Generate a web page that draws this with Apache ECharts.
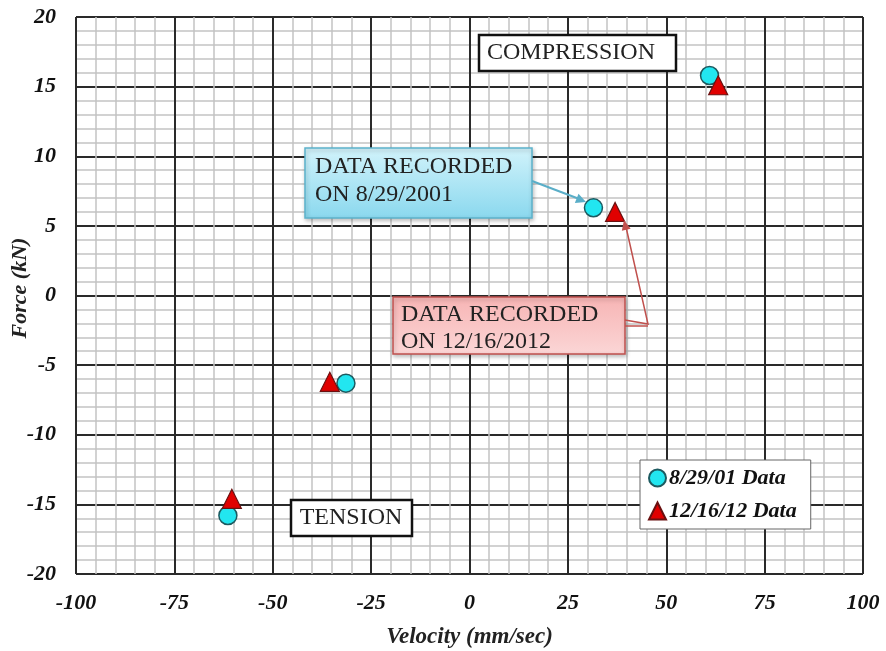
<!DOCTYPE html>
<html>
<head>
<meta charset="utf-8">
<script src="https://cdn.jsdelivr.net/npm/echarts@6/dist/echarts.min.js"></script>
<style>
  html, body { margin: 0; padding: 0; background: #fff; }
  #chart { width: 886px; height: 651px; }
</style>
</head>
<body>
<div id="chart"></div>
<script>
// values
const data2001 = [[61, 15.8], [31.5, 6.3], [-31.4, -6.3], [-61.4, -15.8]];
const data2012 = [[63.2, 15.1], [37, 6.0], [-35.5, -6.2], [-60.4, -14.6]];
const xTicks = [-100, 100, 25];
const yTicks = [-20, 20, 5];

const serif = 'Liberation Serif';
const chart = echarts.init(document.getElementById('chart'));

// arrow head helper (pixel polygon pointing from a to b)
function arrowHead (a, b, len, wid, color) {
  let dx = b[0] - a[0], dy = b[1] - a[1];
  let d = Math.sqrt(dx * dx + dy * dy);
  let ux = dx / d, uy = dy / d;
  let bx = b[0] - ux * len, by = b[1] - uy * len;
  return {
    type: 'polygon',
    shape: { points: [b, [bx - uy * wid, by + ux * wid], [bx + uy * wid, by - ux * wid]] },
    style: { fill: color },
    z: 20
  };
}

const blueBox = [305, 148, 227, 70];
const redBox = [393, 297, 232, 57];

const tickFont = { fontFamily: serif, fontSize: 22, fontWeight: 'bold', fontStyle: 'italic', color: '#111' };
const nameFont = { fontFamily: serif, fontSize: 23, fontWeight: 'bold', fontStyle: 'italic', color: '#222' };

const option = {
  animation: false,
  grid: { left: 76, right: 23, top: 17, bottom: 77, outerBoundsMode: 'none', containLabel: false },
  xAxis: {
    type: 'value', min: xTicks[0], max: xTicks[1], interval: xTicks[2],
    name: 'Velocity (mm/sec)', nameLocation: 'middle', nameGap: 52,
    nameTextStyle: nameFont,
    axisLine: { show: false }, axisTick: { show: false },
    axisLabel: Object.assign({ margin: 18 }, tickFont),
    splitLine: { show: true, showMinLine: true, showMaxLine: true, lineStyle: { color: '#2a2a2a', width: 2 } },
    minorTick: { show: false, splitNumber: 5 },
    minorSplitLine: { show: true, lineStyle: { color: '#c4c4c4', width: 1.5 } }
  },
  yAxis: {
    type: 'value', min: yTicks[0], max: yTicks[1], interval: yTicks[2],
    axisLine: { show: false }, axisTick: { show: false },
    axisLabel: Object.assign({ margin: 20 }, tickFont),
    splitLine: { show: true, showMinLine: true, showMaxLine: true, lineStyle: { color: '#2a2a2a', width: 2 } },
    minorTick: { show: false, splitNumber: 5 },
    minorSplitLine: { show: true, lineStyle: { color: '#c4c4c4', width: 1.5 } }
  },
  legend: {
    left: 640, top: 460, orient: 'vertical',
    backgroundColor: '#fff', borderColor: '#666', borderWidth: 1,
    padding: [7, 14, 7, 8], itemGap: 11, itemWidth: 17, itemHeight: 17,
    textStyle: { fontFamily: serif, fontSize: 22, fontWeight: 'bold', fontStyle: 'italic', color: '#111', padding: [0, 0, 0, -2] },
    data: [
      { name: '8/29/01 Data', icon: 'circle' },
      { name: '12/16/12 Data', icon: 'triangle' }
    ]
  },
  series: [
    {
      name: '8/29/01 Data', type: 'scatter', data: data2001,
      symbol: 'circle', symbolSize: 18, z: 5,
      itemStyle: { color: '#22e6f0', borderColor: '#1d5a60', borderWidth: 1.5, opacity: 1 }
    },
    {
      name: '12/16/12 Data', type: 'scatter', data: data2012,
      symbol: 'triangle', symbolSize: 19, z: 6,
      itemStyle: { color: '#e00000', borderColor: '#6a1010', borderWidth: 1.2, opacity: 1 }
    }
  ],
  graphic: [
    // y axis title (axis name gets pushed off the page otherwise)
    {
      type: 'text', x: 20, y: 288, rotation: Math.PI / 2, z: 11,
      style: Object.assign({ text: 'Force (kN)', align: 'center', verticalAlign: 'middle', fill: '#222' },
        { fontFamily: serif, fontSize: 22, fontWeight: 'bold', fontStyle: 'italic' })
    },
    // COMPRESSION / TENSION labels
    {
      type: 'rect', shape: { x: 479, y: 35, width: 197, height: 36 },
      style: { fill: '#fff', stroke: '#111', lineWidth: 2.5 }, z: 10
    },
    {
      type: 'text', x: 571, y: 53, z: 11,
      style: { text: 'COMPRESSION', fontFamily: serif, fontSize: 24, fill: '#222', align: 'center', verticalAlign: 'middle' }
    },
    {
      type: 'rect', shape: { x: 291, y: 500, width: 121, height: 36 },
      style: { fill: '#fff', stroke: '#111', lineWidth: 2.5 }, z: 10
    },
    {
      type: 'text', x: 351, y: 518, z: 11,
      style: { text: 'TENSION', fontFamily: serif, fontSize: 24, fill: '#222', align: 'center', verticalAlign: 'middle' }
    },
    // blue callout
    {
      type: 'line', shape: { x1: 532, y1: 181, x2: 582, y2: 200 },
      style: { stroke: '#5aaec8', lineWidth: 2 }, z: 20
    },
    arrowHead([532, 181], [586, 202], 10, 5, '#5aaec8'),
    {
      type: 'rect', shape: { x: blueBox[0], y: blueBox[1], width: blueBox[2], height: blueBox[3] },
      style: {
        fill: new echarts.graphic.LinearGradient(0, 0, 0, 1, [
          { offset: 0, color: '#d2f3fb' }, { offset: 1, color: '#8ad8ee' }
        ]),
        stroke: '#5cb3cc', lineWidth: 1.5,
        shadowBlur: 4, shadowColor: 'rgba(0,0,0,0.25)', shadowOffsetX: 1, shadowOffsetY: 2
      }, z: 15
    },
    {
      type: 'text', x: 315, y: 153, z: 16,
      style: { text: 'DATA RECORDED\nON 8/29/2001', fontFamily: serif, fontSize: 24, lineHeight: 28, fill: '#222', verticalAlign: 'top' }
    },
    // red callout
    {
      type: 'polyline', shape: { points: [[625, 320], [648, 324], [626, 227]] },
      style: { stroke: '#c0504d', lineWidth: 1.5, fill: null }, z: 20
    },
    {
      type: 'line', shape: { x1: 625, y1: 326, x2: 648, y2: 326 },
      style: { stroke: '#c0504d', lineWidth: 1.5 }, z: 20
    },
    arrowHead([640, 290], [624, 220], 10, 4.5, '#c0504d'),
    {
      type: 'rect', shape: { x: redBox[0], y: redBox[1], width: redBox[2], height: redBox[3] },
      style: {
        fill: new echarts.graphic.LinearGradient(0, 0, 0, 1, [
          { offset: 0, color: '#f7b4b4' }, { offset: 1, color: '#fbd6d6' }
        ]),
        stroke: '#c0504d', lineWidth: 1.5,
        shadowBlur: 4, shadowColor: 'rgba(0,0,0,0.25)', shadowOffsetX: 1, shadowOffsetY: 2
      }, z: 15
    },
    {
      type: 'text', x: 401, y: 301, z: 16,
      style: { text: 'DATA RECORDED\nON 12/16/2012', fontFamily: serif, fontSize: 24, lineHeight: 27, fill: '#222', verticalAlign: 'top' }
    }
  ]
};

chart.setOption(option);
</script>
</body>
</html>
